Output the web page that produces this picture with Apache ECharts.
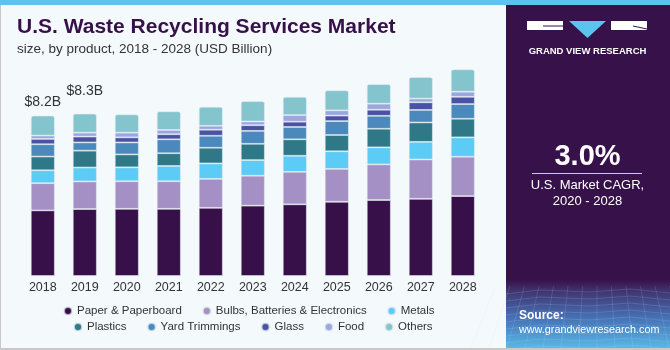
<!DOCTYPE html>
<html>
<head>
<meta charset="utf-8">
<script src="https://cdn.jsdelivr.net/npm/echarts@6/dist/echarts.min.js"></script>
<style>
  html, body { margin: 0; padding: 0; background: #f4f9fc; }
  #chart { width: 670px; height: 350px; }
</style>
</head>
<body>
<div id="chart"></div>
<script>
// values, USD billion
const years = ['2018', '2019', '2020', '2021', '2022', '2023', '2024', '2025', '2026', '2027', '2028']
const paper = [3.35, 3.42, 3.43, 3.43, 3.48, 3.59, 3.66, 3.79, 3.88, 3.94, 4.08]
const bulbs = [1.39, 1.41, 1.41, 1.41, 1.48, 1.53, 1.66, 1.68, 1.82, 2.01, 2.01]
const metals = [0.66, 0.71, 0.71, 0.78, 0.79, 0.80, 0.82, 0.90, 0.87, 0.90, 0.99]
const plastics = [0.70, 0.86, 0.66, 0.65, 0.80, 0.83, 0.84, 0.83, 0.95, 0.99, 0.95]
const yard = [0.63, 0.42, 0.61, 0.71, 0.61, 0.66, 0.63, 0.71, 0.66, 0.64, 0.75]
const glass = [0.27, 0.30, 0.26, 0.26, 0.31, 0.29, 0.27, 0.28, 0.31, 0.39, 0.37]
const food = [0.17, 0.20, 0.24, 0.22, 0.20, 0.19, 0.34, 0.27, 0.31, 0.19, 0.26]
const others = [1.02, 0.97, 0.93, 0.95, 0.97, 1.04, 0.93, 1.02, 1.00, 1.10, 1.14]
const totalLabels = ['$8.2B', '$8.3B']

const seriesDefs = [
  ['Paper & Paperboard', paper, '#37104a'],
  ['Bulbs, Batteries & Electronics', bulbs, '#a590c5'],
  ['Metals', metals, '#5ccbf5'],
  ['Plastics', plastics, '#2f7888'],
  ['Yard Trimmings', yard, '#4b89bd'],
  ['Glass', glass, '#4a53a3'],
  ['Food', food, '#9ba6de'],
  ['Others', others, '#84c4cc'],
]

const font = '"Liberation Sans", Arial, sans-serif'

const series = seriesDefs.map(([name, values, color], i) => {
  const last = i === seriesDefs.length - 1
  return {
    name,
    type: 'bar',
    stack: 'total',
    barWidth: 24,
    itemStyle: {
      color,
      borderColor: 'rgba(232,238,244,0.7)',
      borderWidth: 0.8,
      borderRadius: last ? [2, 2, 0, 0] : 0,
    },
    emphasis: { disabled: true },
    data: values.map((v, j) => {
      if (!last || j >= totalLabels.length) return v
      return {
        value: v,
        label: {
          show: true,
          position: 'top',
          distance: j === 0 ? 6 : 16,
          formatter: totalLabels[j],
          fontFamily: font,
          fontSize: 14,
          color: '#333',
        },
      }
    }),
  }
})

// decorative mesh in the bottom of the side panel
const mesh = []
for (let k = 0; k < 9; k++) {
  const y = 290 + k * 7
  mesh.push({
    type: 'polyline',
    silent: true,
    shape: { points: [[506, y + 4], [540, y], [590, y + 2], [630, y - 1], [670, y + 3]] },
    style: { stroke: 'rgba(200,225,255,0.22)', lineWidth: 0.7, fill: null },
  })
}
for (let k = 0; k < 14; k++) {
  const x = 506 + k * 13
  mesh.push({
    type: 'line',
    silent: true,
    shape: { x1: x + (k - 7) * 1.5, y1: 286, x2: x + (k - 7) * 5, y2: 348 },
    style: { stroke: 'rgba(200,225,255,0.2)', lineWidth: 0.7 },
  })
}

const chart = echarts.init(document.getElementById('chart'), null, { renderer: 'canvas' })
chart.setOption({
  backgroundColor: '#f4f9fc',
  animation: false,
  grid: { left: 21.8, right: 186.2, top: 41, bottom: 74 },
  xAxis: {
    type: 'category',
    data: years,
    axisLine: { show: false },
    axisTick: { show: false },
    axisLabel: { fontFamily: font, fontSize: 12.5, color: '#333', margin: 5 },
  },
  yAxis: { type: 'value', min: 0, max: 12, show: false },
  legend: [
    {
      data: seriesDefs.slice(0, 3).map(d => d[0]),
      left: 63, top: 305,
    },
    {
      data: seriesDefs.slice(3).map(d => d[0]),
      left: 73, top: 321,
    },
  ].map(l => Object.assign(l, {
    icon: 'circle',
    itemWidth: 8,
    itemHeight: 8,
    itemGap: 20,
    padding: 0,
    selectedMode: false,
    textStyle: { fontFamily: font, fontSize: 11.5, color: '#333' },
  })),
  series,
  graphic: [
    { type: 'rect', silent: true, shape: { x: 0, y: 0, width: 1, height: 350 }, style: { fill: '#c8c8c8' } },
    { type: 'rect', silent: true, shape: { x: 0, y: 348, width: 670, height: 2 }, style: { fill: '#c8c8c8' } },
    { type: 'rect', silent: true, shape: { x: 0, y: 0, width: 670, height: 5 }, style: { fill: '#5cc3ee' } },
    {
      type: 'text', left: 17, top: 17,
      style: { text: 'U.S. Waste Recycling Services Market', fontFamily: font, fontWeight: 'bold', fontSize: 21, fill: '#37104a' },
    },
    {
      type: 'text', left: 17, top: 42,
      style: { text: 'size, by product, 2018 - 2028 (USD Billion)', fontFamily: font, fontSize: 13.5, fill: '#333' },
    },
    // side panel
    { type: 'rect', silent: true, shape: { x: 506, y: 5, width: 164, height: 343 }, style: { fill: '#37114a' } },
    {
      type: 'rect', silent: true,
      shape: { x: 506, y: 280, width: 164, height: 68 },
      style: {
        fill: new echarts.graphic.LinearGradient(0, 0, 0, 1, [
          { offset: 0, color: '#37114a' },
          { offset: 0.15, color: '#40326e' },
          { offset: 0.55, color: '#4670b4' },
          { offset: 1, color: '#58b8e6' },
        ]),
      },
    },
    ...mesh,
    // logo
    { type: 'rect', silent: true, shape: { x: 527, y: 21, width: 36, height: 9 }, style: { fill: '#ffffff' } },
    { type: 'polygon', silent: true, shape: { points: [[569, 21], [606, 21], [587.5, 38]] }, style: { fill: '#5cc3ee' } },
    { type: 'rect', silent: true, shape: { x: 611, y: 21, width: 36, height: 9 }, style: { fill: '#ffffff' } },
    { type: 'line', silent: true, shape: { x1: 543, y1: 26, x2: 563, y2: 26 }, style: { stroke: '#37114a', lineWidth: 1 } },
    { type: 'line', silent: true, shape: { x1: 633, y1: 26, x2: 647, y2: 29 }, style: { stroke: '#37114a', lineWidth: 1 } },
    {
      type: 'text', x: 587.5, y: 51,
      style: { text: 'GRAND VIEW RESEARCH', fontFamily: font, fontWeight: 'bold', fontSize: 9.5, fill: '#ffffff', align: 'center', verticalAlign: 'middle' },
    },
    {
      type: 'text', x: 587.5, y: 157,
      style: { text: '3.0%', fontFamily: font, fontWeight: 'bold', fontSize: 29, fill: '#ffffff', align: 'center', verticalAlign: 'middle' },
    },
    { type: 'line', silent: true, shape: { x1: 532, y1: 173.5, x2: 642, y2: 173.5 }, style: { stroke: '#cfc6da', lineWidth: 1 } },
    {
      type: 'text', x: 587.5, y: 185,
      style: { text: 'U.S. Market CAGR,', fontFamily: font, fontSize: 13, fill: '#ffffff', align: 'center', verticalAlign: 'middle' },
    },
    {
      type: 'text', x: 587.5, y: 201,
      style: { text: '2020 - 2028', fontFamily: font, fontSize: 13, fill: '#ffffff', align: 'center', verticalAlign: 'middle' },
    },
    {
      type: 'text', x: 519, y: 316,
      style: { text: 'Source:', fontFamily: font, fontWeight: 'bold', fontSize: 12, fill: '#ffffff', verticalAlign: 'middle' },
    },
    {
      type: 'text', x: 519, y: 330,
      style: { text: 'www.grandviewresearch.com', fontFamily: font, fontSize: 10.8, fill: '#ffffff', verticalAlign: 'middle' },
    },
  ],
})
</script>
</body>
</html>
